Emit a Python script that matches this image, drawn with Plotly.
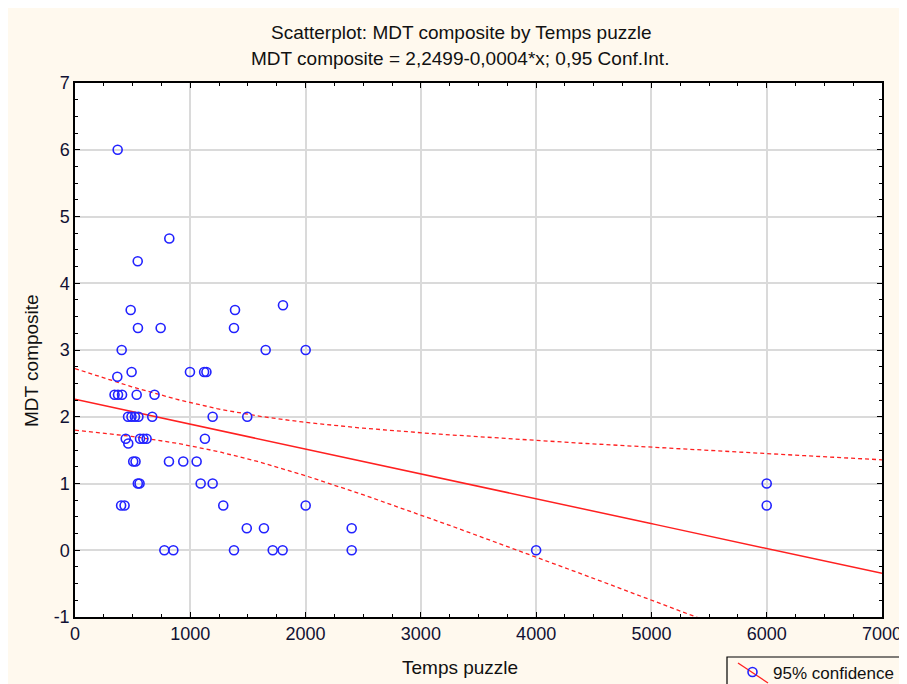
import numpy as np
import plotly.graph_objects as go

# Data (Temps puzzle, MDT composite)
temps_puzzle = [370, 818, 544, 483, 546, 743, 405, 367, 491, 997, 1120, 1140,
                343, 373, 408, 535, 690, 460, 490, 520, 550, 670, 1194, 1494,
                440, 462, 564, 593, 621, 1127, 505, 525, 815, 939, 1055,
                545, 560, 1090, 1194, 400, 430, 1286, 2001, 1490, 1639,
                775, 853, 1379, 1715, 1801, 1388, 1379, 1804, 1654, 2001,
                6000, 6000, 4000, 2400, 2400]
mdt_composite = [6.0, 4.67, 4.33, 3.6, 3.33, 3.33, 3.0, 2.6, 2.67, 2.67, 2.67, 2.67,
                 2.33, 2.33, 2.33, 2.33, 2.33, 2.0, 2.0, 2.0, 2.0, 2.0, 2.0, 2.0,
                 1.67, 1.6, 1.67, 1.67, 1.67, 1.67, 1.33, 1.33, 1.33, 1.33, 1.33,
                 1.0, 1.0, 1.0, 1.0, 0.67, 0.67, 0.67, 0.67, 0.33, 0.33,
                 0.0, 0.0, 0.0, 0.0, 0.0, 3.6, 3.33, 3.67, 3.0, 3.0,
                 1.0, 0.67, 0.0, 0.33, 0.0]
x_ticks = [0, 1000, 2000, 3000, 4000, 5000, 6000, 7000]
y_ticks = [-1, 0, 1, 2, 3, 4, 5, 6, 7]

x = np.array(temps_puzzle, float)
y = np.array(mdt_composite, float)
n = len(x)
slope, intercept = np.polyfit(x, y, 1)
resid = y - (intercept + slope * x)
s = np.sqrt(np.sum(resid ** 2) / (n - 2))
xbar = x.mean()
sxx = np.sum((x - xbar) ** 2)
t_crit = 2.0017  # t(0.975, df=58)
xl = np.linspace(0, 7000, 200)
yl = intercept + slope * xl
half = t_crit * s * np.sqrt(1 / n + (xl - xbar) ** 2 / sxx)

FONT = "Liberation Sans, Arial, sans-serif"
RED = "#FF2020"
BLUE = "#2222FF"
CREAM = "#FFF9EE"

# page offset (body margin) and plot-area geometry in figure pixels
OFF = 8
L, R, T, B = 75 - OFF, 882 - OFF, 83 - OFF, 617 - OFF
W, H = 907, 684
def px(xs):  # screenshot x -> paper
    return (xs - OFF - L) / (R - L)
def py(ys):  # screenshot y -> paper
    return (B - (ys - OFF)) / (B - T)

fig = go.Figure()
fig.add_trace(go.Scatter(x=xl, y=yl, mode="lines", line=dict(color=RED, width=1.5),
                         showlegend=False, hoverinfo="skip"))
fig.add_trace(go.Scatter(x=xl, y=yl + half, mode="lines",
                         line=dict(color=RED, width=1.3, dash="4px,3px"),
                         showlegend=False, hoverinfo="skip"))
fig.add_trace(go.Scatter(x=xl, y=yl - half, mode="lines",
                         line=dict(color=RED, width=1.3, dash="4px,3px"),
                         showlegend=False, hoverinfo="skip"))
fig.add_trace(go.Scatter(x=temps_puzzle, y=mdt_composite, mode="markers",
                         marker=dict(symbol="circle-open", size=9, color=BLUE,
                                     line=dict(width=1.6, color=BLUE)),
                         showlegend=False))

axis_common = dict(
    showline=True, linecolor="black", linewidth=1.5, mirror="allticks",
    ticks="inside", ticklen=5, tickcolor="black", tickwidth=1,
    showgrid=True, gridcolor="#DADADA", gridwidth=1.5, zeroline=False,
    tickfont=dict(family=FONT, size=18, color="#111133"), automargin=False,
)

fig.update_xaxes(range=[0, 7000], tickvals=x_ticks, ticktext=[str(v) for v in x_ticks],
                 minor=dict(ticks="inside", dtick=250, ticklen=3, tickcolor="black",
                            showgrid=False),
                 **axis_common)
fig.update_yaxes(range=[-1, 7], tickvals=y_ticks, ticktext=[str(v) for v in y_ticks],
                 minor=dict(ticks="inside", dtick=0.25, ticklen=3, tickcolor="black",
                            showgrid=False),
                 **axis_common)

annots = [
    dict(text="Scatterplot: MDT composite by Temps puzzle", x=px(461), y=py(32)),
    dict(text="MDT composite = 2,2499-0,0004*x; 0,95 Conf.Int.", x=px(460), y=py(59)),
    dict(text="Temps puzzle", x=px(460), y=py(667)),
]
annotations = [dict(a, xref="paper", yref="paper", showarrow=False, xanchor="center",
                    yanchor="middle", font=dict(family=FONT, size=19, color="#111111"))
               for a in annots]
annotations.append(dict(text="MDT composite", x=px(32), y=py(361),
                        xref="paper", yref="paper", showarrow=False, textangle=-90,
                        xanchor="center", yanchor="middle",
                        font=dict(family=FONT, size=19, color="#111111")))
# legend text
annotations.append(dict(text="95% confidence", x=px(771), y=py(673), xref="paper",
                        yref="paper", showarrow=False, xanchor="left", yanchor="middle",
                        font=dict(family=FONT, size=17, color="#111111")))

shapes = [
    # legend box and key
    dict(type="rect", xref="paper", yref="paper", x0=px(727), x1=px(925),
         y0=py(700), y1=py(657), fillcolor=CREAM, line=dict(color="black", width=1.2)),
    dict(type="line", xref="paper", yref="paper", x0=px(738), x1=px(768),
         y0=py(663), y1=py(683), line=dict(color=RED, width=1.3)),
    dict(type="circle", xref="paper", yref="paper", x0=px(748), x1=px(757),
         y0=py(676.5), y1=py(667.5), line=dict(color=BLUE, width=1.6)),
]

fig.update_layout(
    width=W, height=H,
    margin=dict(l=L, r=W - R, t=T, b=H - B, autoexpand=False),
    paper_bgcolor=CREAM, plot_bgcolor="white",
    font=dict(family=FONT, size=17, color="#111111"),
    annotations=annotations, shapes=shapes,
    showlegend=False,
)

fig.write_html("out.html")
